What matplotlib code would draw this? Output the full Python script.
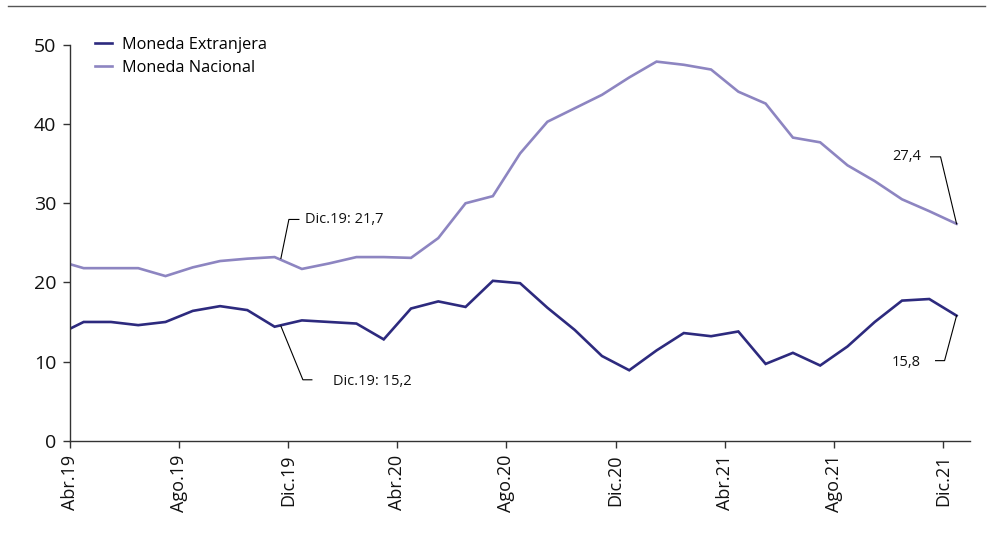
import numpy as np
import matplotlib
matplotlib.use("Agg")
import matplotlib.pyplot as plt
from matplotlib.lines import Line2D

plt.rcParams['font.family'] = ['Open Sans', 'DejaVu Sans']

# monthly series, Mar.19 .. Dic.21 (Mar.19 only shows as the clipped start of the line)
months = ['Mar.19', 'Abr.19', 'May.19', 'Jun.19', 'Jul.19', 'Ago.19', 'Sep.19', 'Oct.19',
          'Nov.19', 'Dic.19', 'Ene.20', 'Feb.20', 'Mar.20', 'Abr.20', 'May.20', 'Jun.20',
          'Jul.20', 'Ago.20', 'Sep.20', 'Oct.20', 'Nov.20', 'Dic.20', 'Ene.21', 'Feb.21',
          'Mar.21', 'Abr.21', 'May.21', 'Jun.21', 'Jul.21', 'Ago.21', 'Sep.21', 'Oct.21',
          'Nov.21', 'Dic.21']
extranjera = [13.3, 15.0, 15.0, 14.6, 15.0, 16.4, 17.0, 16.5, 14.4, 15.2, 15.0, 14.8,
              12.8, 16.7, 17.6, 16.9, 20.2, 19.9, 16.8, 14.0, 10.7, 8.9, 11.4, 13.6,
              13.2, 13.8, 9.7, 11.1, 9.5, 11.9, 15.0, 17.7, 17.9, 15.8]
nacional = [22.8, 21.8, 21.8, 21.8, 20.8, 21.9, 22.7, 23.0, 23.2, 21.7, 22.4, 23.2,
            23.2, 23.1, 25.6, 30.0, 30.9, 36.3, 40.3, 42.0, 43.7, 45.9, 47.9, 47.5,
            46.9, 44.1, 42.6, 38.3, 37.7, 34.8, 32.8, 30.5, 29.0, 27.4]

tick_labels = ['Abr.19', 'Ago.19', 'Dic.19', 'Abr.20', 'Ago.20', 'Dic.20',
               'Abr.21', 'Ago.21', 'Dic.21']

c_ext = '#2d2a7e'
c_nac = '#8d85c1'
c_axis = '#333333'

fig = plt.figure(figsize=(9.89, 5.35), dpi=100)
ax = fig.add_axes([0.0708, 0.1763, 0.9102, 0.7396])

# points sit in the middle of each month slot; axis starts at Abr.19
t = np.arange(len(months)) - 0.5
ax.plot(t, extranjera, color=c_ext, lw=1.9, label='Moneda Extranjera', solid_joinstyle='miter')
ax.plot(t, nacional, color=c_nac, lw=1.9, label='Moneda Nacional', solid_joinstyle='miter')

ax.set_xlim(0, 33)
ax.set_ylim(0, 50)
ax.set_yticks([0, 10, 20, 30, 40, 50])
tick_pos = [months.index(m) - 1 for m in tick_labels]
ax.set_xticks(tick_pos)
ax.set_xticklabels(tick_labels, rotation=90)

for s in ['top', 'right']:
    ax.spines[s].set_visible(False)
for s in ['left', 'bottom']:
    ax.spines[s].set_color(c_axis)
    ax.spines[s].set_linewidth(1.0)
ax.tick_params(axis='y', direction='out', length=5, width=1, color=c_axis,
               labelsize=14, pad=5, labelcolor='#111111')
ax.tick_params(axis='x', direction='out', length=5, width=1, color=c_axis,
               labelsize=13, pad=5, labelcolor='#111111')

ax.legend(loc='upper left', bbox_to_anchor=(0.021, 1.037), frameon=False,
          fontsize=11.7, handlelength=1.0, handletextpad=0.65, labelspacing=0.45,
          borderaxespad=0)


def leader(ax, i, series, path, text, text_off, ha):
    # path / text_off: pixel offsets from the data point (y up)
    x0, y0 = ax.transData.transform((t[i], series[i]))
    pts = [(x0 + dx, y0 + dy) for dx, dy in path]
    inv = ax.transData.inverted()
    data = inv.transform(pts)
    ax.plot(data[:, 0], data[:, 1], color='black', lw=0.8, clip_on=False)
    tx, ty = inv.transform((x0 + text_off[0], y0 + text_off[1]))
    ax.text(tx, ty, text, ha=ha, va='center', fontsize=10.5, color='#111111')


i_dic19 = months.index('Dic.19')
i_last = len(months) - 1
leader(ax, i_dic19, nacional, [(-21, 10.5), (-13, 49.5), (-3, 49.5)],
       'Dic.19: 21,7', (3, 49.5), 'left')
leader(ax, i_dic19, extranjera, [(-21, -5.7), (1, -59.4), (10, -59.4)],
       'Dic.19: 15,2', (31, -61), 'left')
leader(ax, i_last, nacional, [(0, 0), (-16, 67), (-26, 67)],
       '27,4', (-35, 67), 'right')
leader(ax, i_last, extranjera, [(0, 0), (-12, -45), (-21, -45)],
       '15,8', (-36, -47), 'right')

# thin rule at the top of the figure
fig.add_artist(Line2D([8 / 989, 985 / 989], [1 - 5.5 / 535, 1 - 5.5 / 535],
                      color='#555555', lw=1.0))

fig.savefig('out.png', dpi=100)
